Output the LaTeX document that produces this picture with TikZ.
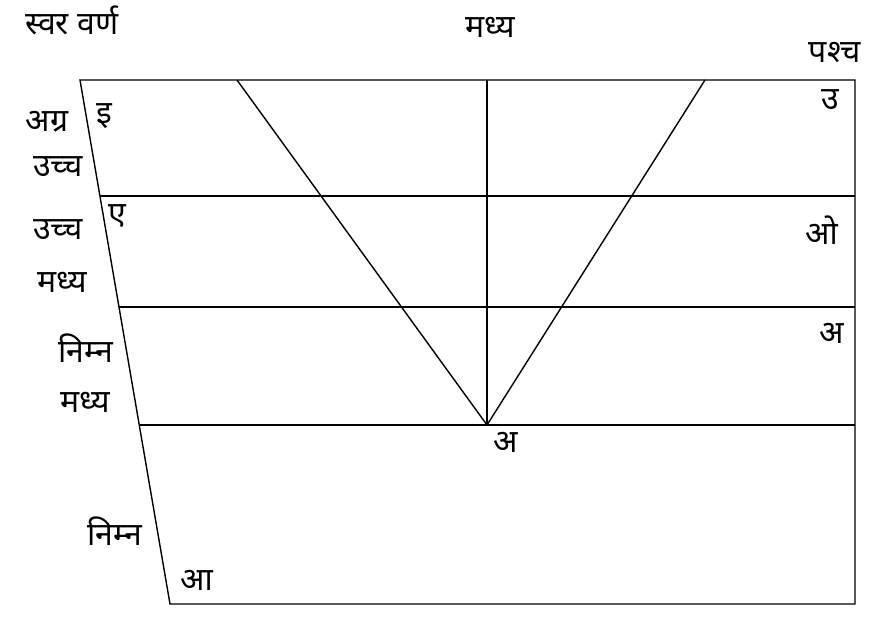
\documentclass[tikz,border=0pt]{standalone}
\usepackage{fontspec}
\newfontfamily\dev[Script=Devanagari]{Noto Sans}

\begin{document}
\begin{tikzpicture}[x=1pt, y=-1pt, line width=1.4pt,
  every node/.style={inner sep=1pt, font=\dev\fontsize{32}{35}\selectfont}]
\useasboundingbox (0,0) rectangle (872,625);
% corners of the chart
\coordinate (TL) at (80,80);
\coordinate (TR) at (855,80);
\coordinate (BL) at (170,604);
\coordinate (BR) at (855,604);

% rows
\coordinate (L1) at (100,196);
\coordinate (L2) at (119,307);
\coordinate (L3) at (140,425);
\coordinate (R1) at (855,196);
\coordinate (R2) at (855,307);
\coordinate (R3) at (855,425);

% V and middle line
\coordinate (VL) at (237,80);
\coordinate (VR) at (705,80);
\coordinate (VM) at (487,80);
\coordinate (V) at (487,425);

\draw (TL) -- (TR) -- (BR) -- (BL) -- cycle;
\draw (L1) -- (R1);
\draw (L2) -- (R2);
\draw (L3) -- (R3);
\draw (VM) -- (V);
\draw (VL) -- (V) -- (VR);

% labels on top
\node (svar) at (72,20) {स्वर वर्ण};
\node (madhya) at (490,27) {मध्य};
\node (pashch) at (835,52) {पश्च};

% labels on the left
\node (agra) at (47,122) {अग्र};
\node (i) at (104,116) {इ};
\node (uchch1) at (58,167) {उच्च};
\node (e) at (117,216) {ए};
\node (uchch2) at (58,230) {उच्च};
\node (madhya1) at (62,282) {मध्य};
\node (nimn1) at (86,348) {निम्न};
\node (madhya2) at (85,402) {मध्य};
\node (nimn2) at (115,531) {निम्न};
\node (aa) at (197,580) {आ};

% labels on the right
\node (u) at (830,100) {उ};
\node (o) at (822,230) {ओ};
\node (a1) at (832,333) {अ};
\node (a2) at (506,442) {अ};
\end{tikzpicture}
\end{document}
